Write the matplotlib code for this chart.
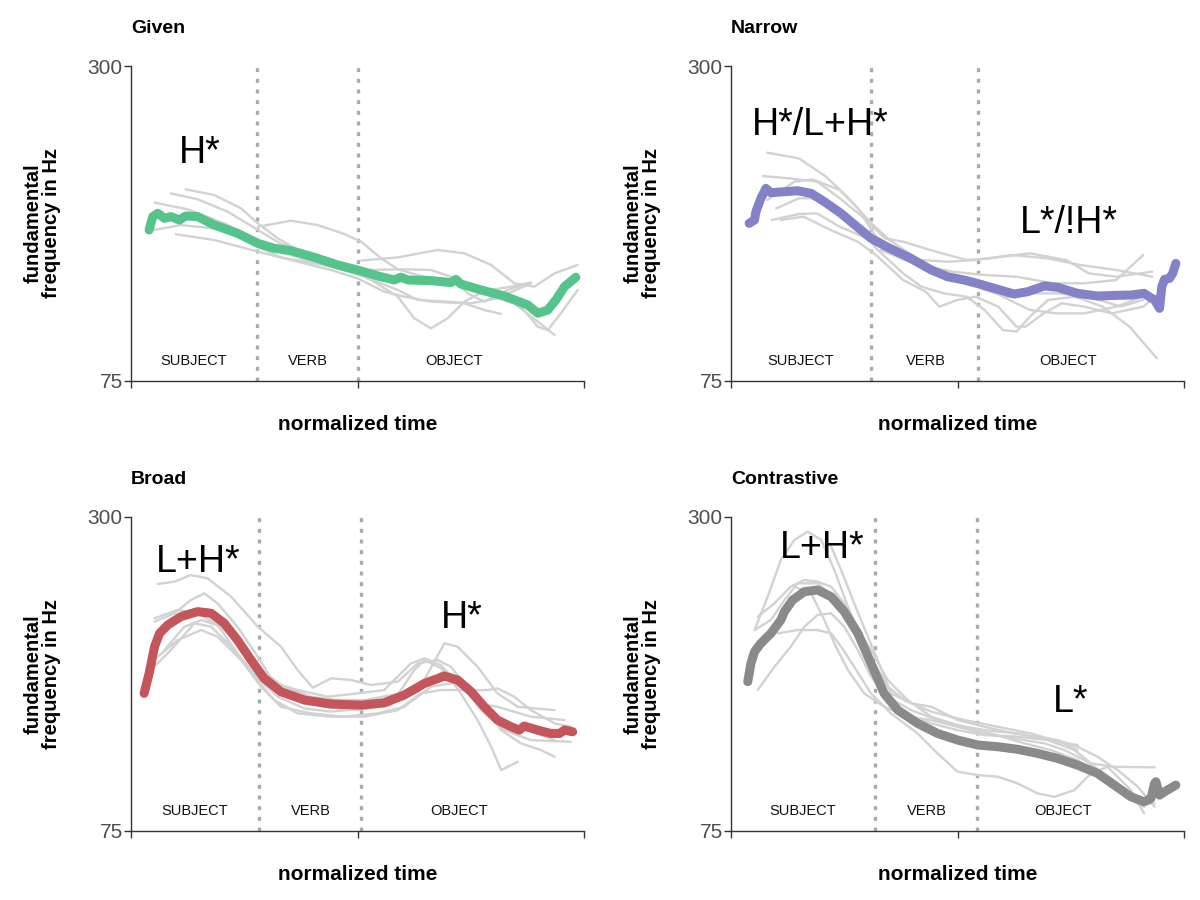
import matplotlib
matplotlib.use("Agg")
import matplotlib.pyplot as plt

plt.rcParams['font.family'] = ['Liberation Sans', 'DejaVu Sans']

# ---- Given ----
given_t = [0.040, 0.048, 0.059, 0.074, 0.088, 0.107, 0.121, 0.147, 0.184, 0.235, 0.280, 0.316,
           0.353, 0.405, 0.456, 0.500, 0.545, 0.581, 0.596, 0.611, 0.662, 0.706, 0.717, 0.728,
           0.773, 0.824, 0.876, 0.898, 0.920, 0.938, 0.957, 0.982]
given_f0 = [182.9, 192.4, 194.8, 191.2, 192.4, 190.0, 192.9, 192.4, 186.4, 180.5, 173.3, 169.8,
            168.1, 163.3, 157.9, 154.3, 150.0, 147.2, 149.1, 147.2, 146.7, 145.3, 147.6, 144.3,
            140.0, 135.7, 129.3, 123.4, 125.7, 132.9, 142.4, 149.1]
given_trials = [
    ([0.121, 0.184, 0.243, 0.280, 0.324, 0.368, 0.412],
     [211.9, 207.8, 198.3, 187.6, 176.9, 168.6, 163.3]),
    ([0.088, 0.147, 0.213, 0.280, 0.331, 0.383, 0.441, 0.500],
     [209.0, 204.8, 196.0, 182.9, 172.9, 167.4, 161.9, 154.3]),
    ([0.052, 0.125, 0.206, 0.280, 0.316, 0.383, 0.456, 0.515, 0.589, 0.633, 0.699, 0.751, 0.809, 0.883],
     [202.4, 197.6, 187.6, 175.7, 168.6, 161.9, 155.5, 149.5, 140.0, 132.9, 131.7, 130.5, 134.1, 144.8]),
    ([0.052, 0.110, 0.184, 0.243, 0.280, 0.331, 0.405, 0.478, 0.530, 0.589, 0.625, 0.662, 0.699,
      0.736, 0.780, 0.832, 0.883],
     [182.9, 186.4, 184.0, 178.1, 171.0, 163.3, 159.1, 154.3, 147.2, 135.3, 119.8, 112.6, 119.8,
      131.7, 139.5, 141.9, 145.3]),
    ([0.099, 0.184, 0.280, 0.368, 0.441, 0.500, 0.559, 0.603, 0.662, 0.736, 0.780, 0.817],
     [179.8, 175.7, 167.4, 160.2, 154.3, 148.3, 138.8, 135.3, 131.7, 130.5, 125.7, 122.9]),
    ([0.280, 0.353, 0.412, 0.471, 0.508, 0.552, 0.589, 0.640, 0.699, 0.765, 0.846, 0.898, 0.935],
     [185.2, 189.5, 186.4, 180.0, 174.5, 162.6, 154.8, 150.0, 146.7, 138.8, 130.5, 117.4, 107.9]),
    ([0.508, 0.589, 0.677, 0.736, 0.795, 0.846, 0.890, 0.935, 0.986],
     [161.0, 163.3, 168.6, 166.2, 157.9, 144.8, 142.4, 151.9, 157.9]),
    ([0.412, 0.515, 0.603, 0.662, 0.706, 0.743, 0.780, 0.832, 0.876],
     [161.4, 154.3, 154.8, 154.3, 149.5, 137.6, 131.7, 140.0, 144.8]),
    ([0.736, 0.809, 0.861, 0.898, 0.920, 0.949, 0.986],
     [144.8, 137.6, 128.1, 113.8, 111.4, 123.4, 140.0]),
]

# ---- Narrow ----
narrow_t = [0.040, 0.052, 0.055, 0.066, 0.077, 0.088, 0.118, 0.147, 0.177, 0.206, 0.243, 0.280,
            0.309, 0.346, 0.397, 0.442, 0.478, 0.515, 0.548, 0.589, 0.625, 0.655, 0.692, 0.721,
            0.765, 0.809, 0.854, 0.883, 0.912, 0.923, 0.935, 0.946, 0.951, 0.957, 0.968, 0.975, 0.982]
narrow_f0 = [187.6, 190.0, 195.9, 205.4, 212.6, 209.5, 210.2, 210.9, 209.0, 203.1, 194.7, 184.7,
             176.9, 170.5, 162.6, 154.3, 149.5, 147.1, 144.3, 140.5, 137.1, 138.8, 142.9, 141.9,
             137.6, 135.7, 136.2, 136.4, 137.6, 135.2, 132.9, 126.9, 142.4, 147.6, 148.3, 151.9, 159.0]
narrow_trials = [
    ([0.08, 0.15, 0.21, 0.26, 0.31, 0.35, 0.41, 0.47, 0.53, 0.59],
     [238.1, 234.0, 220.9, 205.5, 187.6, 175.7, 162.6, 151.9, 145.9, 142.4]),
    ([0.07, 0.13, 0.19, 0.24, 0.29, 0.34, 0.38, 0.44, 0.52, 0.57, 0.66, 0.74, 0.79, 0.85, 0.93],
     [221.4, 219.7, 217.4, 205.5, 192.4, 176.9, 174.5, 168.6, 161.4, 162.6, 166.2, 161.4, 151.9,
      149.5, 153.1]),
    ([0.08, 0.14, 0.18, 0.24, 0.28, 0.32, 0.38, 0.44, 0.50, 0.56, 0.60, 0.66, 0.72, 0.78, 0.85, 0.91],
     [204.3, 217.4, 219.0, 211.4, 198.3, 178.1, 166.2, 154.3, 147.1, 142.4, 135.2, 125.7, 123.3,
      123.3, 128.1, 135.2]),
    ([0.10, 0.15, 0.20, 0.24, 0.29, 0.32, 0.38, 0.42, 0.47, 0.52, 0.56, 0.60, 0.63, 0.66, 0.70,
      0.76, 0.82, 0.88, 0.94],
     [198.3, 205.5, 205.5, 197.1, 182.8, 169.8, 151.9, 142.4, 137.6, 135.2, 125.7, 111.4, 110.3,
      121.0, 132.9, 135.2, 128.1, 113.8, 91.2]),
    ([0.09, 0.15, 0.19, 0.24, 0.31, 0.36, 0.42, 0.48, 0.54, 0.62, 0.70, 0.77, 0.85, 0.93],
     [190.0, 194.3, 194.7, 185.2, 175.7, 168.6, 161.4, 160.2, 161.4, 165.0, 162.6, 157.9, 154.3, 149.5]),
    ([0.11, 0.16, 0.22, 0.28, 0.32, 0.38, 0.43, 0.46, 0.50, 0.54, 0.59, 0.63, 0.65, 0.69, 0.73,
      0.78, 0.84, 0.91, 0.95],
     [190.0, 192.4, 182.8, 174.5, 165.0, 147.1, 138.8, 128.1, 132.9, 135.2, 128.1, 113.8, 113.8,
      123.3, 130.5, 128.1, 123.3, 128.1, 138.8]),
    ([0.33, 0.41, 0.49, 0.56, 0.63, 0.71, 0.78, 0.85, 0.91],
     [168.6, 157.9, 153.1, 150.7, 149.5, 144.8, 144.8, 147.1, 165.0]),
    ([0.52, 0.56, 0.61, 0.66, 0.72, 0.79, 0.86, 0.91],
     [147.1, 140.0, 135.2, 137.6, 137.6, 135.2, 128.1, 132.9]),
]

# ---- Broad ----
broad_t = [0.029, 0.040, 0.052, 0.063, 0.081, 0.110, 0.147, 0.177, 0.206, 0.235, 0.265, 0.294,
           0.331, 0.383, 0.441, 0.508, 0.559, 0.603, 0.648, 0.692, 0.721, 0.751, 0.780, 0.809,
           0.839, 0.857, 0.868, 0.898, 0.927, 0.946, 0.957, 0.975]
broad_f0 = [173.6, 187.9, 207.1, 216.6, 222.6, 228.6, 232.2, 231.0, 223.8, 211.8, 197.5, 184.4,
            174.8, 168.8, 166.0, 165.2, 166.9, 172.4, 180.8, 186.0, 183.2, 174.8, 164.0, 154.5,
            149.7, 147.3, 150.2, 147.3, 144.9, 144.9, 147.3, 146.1]
broad_trials = [
    ([0.059, 0.096, 0.132, 0.169, 0.221, 0.280, 0.331, 0.368, 0.401, 0.442, 0.486, 0.530, 0.589,
      0.633, 0.677, 0.706, 0.736, 0.773, 0.809, 0.854, 0.935],
     [252.0, 253.7, 258.4, 256.1, 242.9, 221.4, 207.1, 190.3, 177.7, 184.4, 183.2, 179.6, 182.0,
      195.1, 197.5, 192.7, 180.8, 166.4, 156.9, 149.7, 140.1]),
    ([0.052, 0.096, 0.132, 0.162, 0.191, 0.235, 0.280, 0.316, 0.368, 0.427, 0.500, 0.574, 0.625,
      0.648, 0.692, 0.728, 0.765, 0.795, 0.817, 0.854],
     [225.0, 231.0, 240.5, 245.3, 238.1, 221.4, 199.9, 180.8, 168.8, 164.0, 161.6, 165.2, 190.3,
      197.5, 190.3, 173.6, 154.5, 135.4, 118.6, 124.6]),
    ([0.052, 0.103, 0.147, 0.191, 0.235, 0.280, 0.324, 0.383, 0.442, 0.515, 0.574, 0.633, 0.692,
      0.721, 0.765, 0.809, 0.854, 0.935],
     [227.4, 233.4, 231.0, 222.6, 202.3, 184.4, 171.2, 162.8, 160.5, 162.8, 166.4, 174.8, 209.5,
      207.1, 192.7, 173.6, 164.0, 161.6]),
    ([0.059, 0.103, 0.155, 0.191, 0.243, 0.287, 0.331, 0.397, 0.471, 0.545, 0.603, 0.662, 0.706,
      0.743, 0.780, 0.817, 0.861, 0.905, 0.935],
     [199.9, 211.8, 219.0, 214.2, 197.5, 178.4, 164.0, 159.3, 156.9, 159.3, 164.0, 178.4, 180.8,
      178.4, 164.0, 147.3, 137.8, 133.0, 128.2]),
    ([0.044, 0.088, 0.140, 0.177, 0.221, 0.272, 0.316, 0.368, 0.442, 0.515, 0.589, 0.640, 0.684,
      0.736, 0.787, 0.809, 0.846, 0.883, 0.935, 0.971],
     [190.3, 204.7, 223.8, 221.4, 207.1, 185.6, 168.8, 159.3, 156.9, 156.9, 161.6, 173.6, 176.0,
      176.0, 176.0, 177.2, 171.2, 161.6, 152.1, 149.7]),
    ([0.074, 0.118, 0.155, 0.199, 0.243, 0.287, 0.338, 0.397, 0.456, 0.515, 0.574, 0.633, 0.692,
      0.728, 0.773, 0.824, 0.883, 0.971],
     [204.7, 221.4, 226.2, 221.4, 207.1, 190.3, 178.4, 171.2, 168.8, 168.8, 172.4, 174.8, 190.3,
      180.8, 161.6, 147.3, 140.1, 138.9]),
    ([0.294, 0.368, 0.434, 0.500, 0.559, 0.618, 0.648, 0.684, 0.728, 0.765, 0.809, 0.883, 0.957],
     [183.2, 176.0, 171.2, 173.6, 176.0, 195.1, 198.7, 193.9, 178.4, 166.4, 164.0, 156.9, 154.5]),
]

# ---- Contrastive ----
contr_t = [0.037, 0.044, 0.052, 0.066, 0.088, 0.110, 0.118, 0.136, 0.162, 0.191, 0.221, 0.250,
           0.280, 0.309, 0.338, 0.368, 0.412, 0.456, 0.500, 0.545, 0.589, 0.633, 0.677, 0.721,
           0.765, 0.809, 0.846, 0.883, 0.912, 0.927, 0.935, 0.938, 0.946, 0.957, 0.982]
contr_f0 = [182.0, 195.1, 203.5, 209.5, 216.6, 226.2, 232.2, 240.5, 246.5, 247.7, 242.9, 232.2,
            216.6, 195.1, 173.6, 161.7, 152.1, 144.9, 140.2, 136.6, 135.4, 133.5, 130.6, 127.0,
            122.2, 116.3, 107.9, 99.5, 95.9, 98.3, 109.1, 110.3, 100.7, 103.1, 107.9]
contr_trials = [
    ([0.052, 0.081, 0.110, 0.140, 0.169, 0.199, 0.228, 0.258, 0.287, 0.316, 0.346, 0.383, 0.442,
      0.515, 0.589, 0.662, 0.736, 0.765],
     [219.0, 242.9, 269.2, 283.6, 289.5, 283.6, 262.1, 235.8, 214.3, 195.1, 178.4, 168.8, 160.5,
      154.5, 149.7, 144.9, 137.8, 133.0]),
    ([0.059, 0.096, 0.132, 0.162, 0.191, 0.221, 0.250, 0.280, 0.309, 0.338, 0.383, 0.442, 0.500,
      0.559, 0.633, 0.699, 0.765],
     [228.6, 238.1, 250.1, 254.9, 253.7, 250.1, 238.1, 219.0, 192.7, 171.2, 159.3, 152.1, 147.3,
      143.7, 142.6, 140.2, 136.6]),
    ([0.052, 0.088, 0.118, 0.147, 0.191, 0.235, 0.272, 0.309, 0.346, 0.390, 0.442, 0.500, 0.559,
      0.633, 0.699, 0.758, 0.795, 0.846, 0.935],
     [219.0, 226.2, 240.5, 252.5, 252.5, 240.5, 223.8, 204.7, 183.2, 168.8, 156.9, 150.9, 147.3,
      144.9, 140.2, 133.0, 123.4, 121.0, 120.6]),
    ([0.059, 0.096, 0.132, 0.162, 0.191, 0.221, 0.250, 0.280, 0.309, 0.346, 0.397, 0.456, 0.515,
      0.574, 0.648, 0.706, 0.765, 0.809, 0.854, 0.898, 0.912],
     [176.0, 192.7, 207.1, 221.4, 229.8, 231.0, 221.4, 204.7, 185.6, 171.2, 161.7, 154.5, 149.7,
      144.9, 137.8, 133.0, 125.8, 116.3, 106.7, 94.7, 92.4]),
    ([0.103, 0.147, 0.191, 0.221, 0.243, 0.272, 0.309, 0.353, 0.412, 0.456, 0.500, 0.545, 0.589,
      0.633, 0.677, 0.714, 0.758, 0.795, 0.831, 0.883, 0.912],
     [216.6, 219.0, 219.0, 216.6, 207.1, 192.7, 173.6, 159.3, 144.9, 130.6, 117.5, 115.1, 113.9,
      109.1, 101.9, 99.5, 104.3, 116.3, 121.0, 104.3, 87.6]),
    ([0.140, 0.177, 0.206, 0.228, 0.258, 0.294, 0.338, 0.390, 0.442, 0.500, 0.559, 0.625, 0.692,
      0.736, 0.780, 0.824, 0.868, 0.905, 0.935],
     [250.1, 245.3, 226.2, 209.5, 190.4, 173.6, 164.1, 156.9, 154.5, 149.7, 144.9, 141.3, 137.8,
      133.0, 125.8, 116.3, 104.3, 94.7, 94.7]),
    ([0.221, 0.243, 0.272, 0.302, 0.324, 0.353, 0.397, 0.442, 0.500, 0.559, 0.625, 0.677, 0.721,
      0.765, 0.809, 0.854, 0.898, 0.935],
     [278.8, 262.1, 238.1, 214.3, 197.5, 173.6, 166.5, 164.1, 154.5, 149.7, 144.9, 142.6, 140.2,
      135.4, 128.2, 118.6, 106.7, 92.4]),
]

segments = ["SUBJECT", "VERB", "OBJECT"]

panels = [
    dict(title="Given", t=given_t, f0=given_f0, trials=given_trials, color="#55c48a",
         bounds=[0.278, 0.501], seg_x=[0.138, 0.390, 0.713],
         notes=[("H*", 0.106, 230.7)]),
    dict(title="Narrow", t=narrow_t, f0=narrow_f0, trials=narrow_trials, color="#8482c6",
         bounds=[0.309, 0.546], seg_x=[0.154, 0.430, 0.744],
         notes=[("H*/L+H*", 0.046, 250.7), ("L*/!H*", 0.637, 180.5)]),
    dict(title="Broad", t=broad_t, f0=broad_f0, trials=broad_trials, color="#c4555a",
         bounds=[0.283, 0.508], seg_x=[0.141, 0.396, 0.724],
         notes=[("L+H*", 0.055, 260.8), ("H*", 0.684, 220.2)]),
    dict(title="Contrastive", t=contr_t, f0=contr_f0, trials=contr_trials, color="#8a8a8a",
         bounds=[0.318, 0.542], seg_x=[0.158, 0.432, 0.734],
         notes=[("L+H*", 0.107, 270.4), ("L*", 0.710, 160.5)]),
]

fig = plt.figure(figsize=(12, 9), dpi=100)
positions = [
    [131 / 1200, 1 - 381 / 900, 453 / 1200, 315 / 900],
    [731 / 1200, 1 - 381 / 900, 453 / 1200, 315 / 900],
    [131 / 1200, 1 - 831 / 900, 453 / 1200, 314 / 900],
    [731 / 1200, 1 - 831 / 900, 453 / 1200, 314 / 900],
]

for p, pos in zip(panels, positions):
    ax = fig.add_axes(pos)
    for tx, fy in p["trials"]:
        ax.plot(tx, fy, color="#d2d2d2", lw=1.7, solid_capstyle="round",
                solid_joinstyle="round", zorder=2)
    for b in p["bounds"]:
        ax.axvline(b, color="#aaaaaa", lw=2.4, linestyle=(0, (1.2, 2.0)), zorder=1)
    ax.plot(p["t"], p["f0"], color=p["color"], lw=6.5, solid_capstyle="round",
            solid_joinstyle="round", zorder=3)
    for name, sx in zip(segments, p["seg_x"]):
        ax.text(sx, 89, name, ha="center", va="center", fontsize=10.5, color="#111111")
    for txt, nx, ny in p["notes"]:
        ax.text(nx, ny, txt, ha="left", va="baseline", fontsize=27, color="black", zorder=4)

    ax.set_xlim(0, 1)
    ax.set_ylim(75, 300)
    ax.set_xticks([0, 0.5, 1])
    ax.set_xticklabels([])
    ax.set_yticks([75, 300])
    ax.set_yticklabels(["75", "300"], fontsize=15, color="#4d4d4d")
    ax.tick_params(axis="both", length=5, width=1, color="#333333", pad=1)
    for s in ["top", "right"]:
        ax.spines[s].set_visible(False)
    for s in ["left", "bottom"]:
        ax.spines[s].set_color("#333333")
        ax.spines[s].set_linewidth(1)

    ax.text(0, 1.118, p["title"], transform=ax.transAxes, ha="left", va="center",
            fontsize=14, fontweight="bold")
    ax.text(0.5, -0.137, "normalized time", transform=ax.transAxes, ha="center", va="center",
            fontsize=15, fontweight="bold")
    ax.text(-0.196, 0.5, "fundamental\nfrequency in Hz", transform=ax.transAxes, rotation=90,
            ha="center", va="center", fontsize=14.5, fontweight="bold", linespacing=0.95)

fig.savefig("out.png", dpi=100)
